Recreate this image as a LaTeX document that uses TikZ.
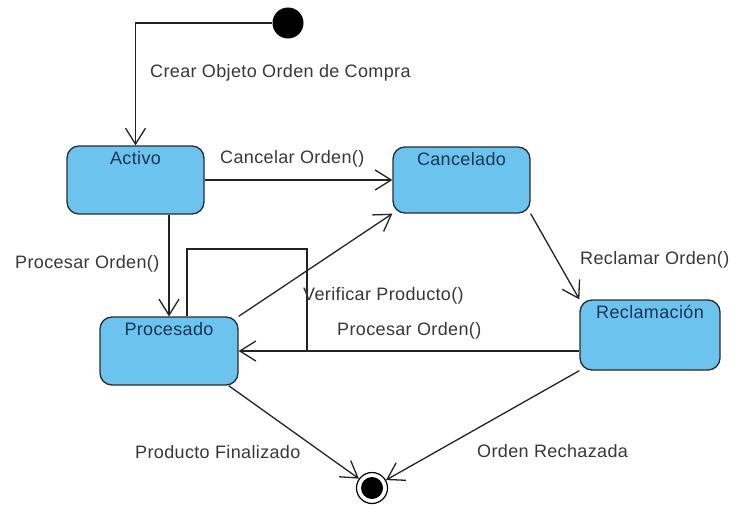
\documentclass[tikz,border=0pt]{standalone}
\usepackage{fontspec}
\setmainfont{Liberation Sans}[LetterSpace=2]
\usetikzlibrary{arrows.meta}
\definecolor{stfill}{RGB}{108,196,238}
\definecolor{stline}{RGB}{38,44,52}
\definecolor{sttext}{RGB}{26,52,86}
\definecolor{lbtext}{RGB}{55,55,55}
\definecolor{wire}{RGB}{35,35,35}
\begin{document}
\begin{tikzpicture}[x=1pt,y=-1pt,
  state/.style={draw=stline, fill=stfill, line width=1.3pt, rounded corners=12pt,
    inner sep=0pt},
  stname/.style={font=\fontsize{18}{21}\selectfont, text=sttext, anchor=north,
    inner xsep=3pt, inner ysep=6pt},
  trans/.style={draw=wire, line width=1.3pt, -{Straight Barb[length=16pt,width=20pt,line width=1.3pt]}},
  lbl/.style={font=\fontsize{18}{21}\selectfont, text=lbtext, anchor=west, inner sep=0pt}]
\useasboundingbox (0,0) rectangle (731,506);

% states
\node[state, minimum width=137pt, minimum height=68pt] (act) at (135.5,180) {};
\node[stname] (actn) at (act.north) {Activo};
\node[state, minimum width=137pt, minimum height=66pt] (canc) at (461.5,180) {};
\node[stname] (cancn) at (canc.north) {Cancelado};
\node[state, minimum width=140pt, minimum height=70pt] (recl) at (650,335) {};
\node[stname] (recln) at (recl.north) {Reclamación};
\node[state, minimum width=138pt, minimum height=68pt] (proc) at (169,351) {};
\node[stname] (procn) at (proc.north) {Procesado};

% initial and final pseudo-states
\node[circle, fill=black, minimum size=31pt, inner sep=0pt] (init) at (288,23) {};
\node[circle, draw=black, line width=1.2pt, minimum size=31pt, inner sep=0pt] (fin) at (372,488) {};
\fill[black] (fin.center) circle (11pt);

\coordinate (loopc) at (307,249);

% transitions
\draw[trans] (init) -| (act);
\draw[trans] (act) -- (canc);
\draw[trans] (act.south -| proc) -- (proc);
\draw[draw=wire, line width=1.3pt] ([xshift=18pt]proc.north) |- (loopc) -- (loopc |- proc);
\draw[trans] (recl.west |- proc) -- (proc);
\draw[trans] (proc.north east) -- (canc.south west);
\draw[trans] (canc.south east) -- (recl.north west);
\draw[trans] ([xshift=-10pt]proc.south east) -- (fin);
\draw[trans] (recl.south west) -- (fin);

% transition labels
\node[lbl] (l1) at (150,73) {Crear Objeto Orden de Compra};
\node[lbl] (l2) at (220,159) {Cancelar Orden()};
\node[lbl] (l3) at (15,264) {Procesar Orden()};
\node[lbl] (l4) at (303,296) {Verificar Producto()};
\node[lbl] (l5) at (337,331) {Procesar Orden()};
\node[lbl] (l6) at (580,260) {Reclamar Orden()};
\node[lbl] (l7) at (135,452) {Producto Finalizado};
\node[lbl] (l8) at (477,451) {Orden Rechazada};
\end{tikzpicture}
\end{document}
